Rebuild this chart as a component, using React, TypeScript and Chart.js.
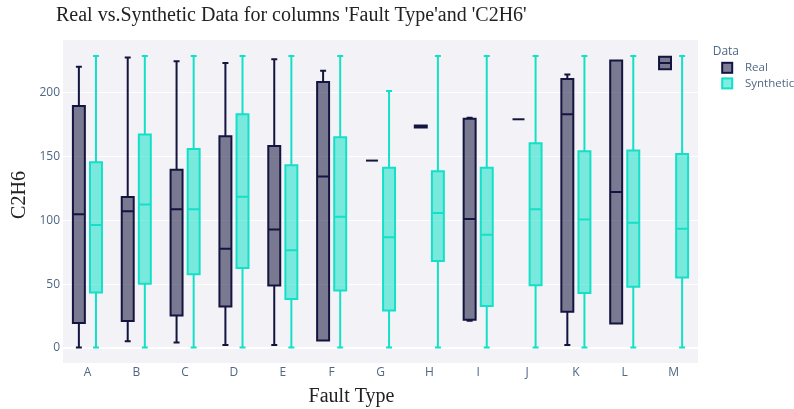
import React, { useEffect, useRef } from "react";
import { Chart, registerables } from "chart.js";

Chart.register(...registerables);

const categories = ["A", "B", "C", "D", "E", "F", "G", "H", "I", "J", "K", "L", "M"];

const realMin = [0.5, 5.4, 4.4, 2.3, 2.3, 5.9, 146.6, 172.5, 21.3, 178.9, 2.3, 19.2, 218];
const realQ1 = [19.5, 21.1, 25.5, 32.5, 48.9, 5.9, 146.6, 172.5, 22.1, 178.9, 28.4, 19.2, 218];
const realMedian = [104.7, 107, 108.6, 77.6, 92.7, 134.1, 146.6, 173.2, 101, 178.9, 182.8, 122.1, 222.9];
const realQ3 = [189.3, 118.2, 139.5, 165.6, 158, 208, 146.6, 174, 179.4, 178.9, 210.4, 224.8, 227.8];
const realMax = [220, 227.3, 224.2, 222.9, 225.8, 216.9, 146.6, 174, 180, 178.9, 214, 224.8, 227.8];

const synthMin = [0.5, 0.5, 0.5, 0.5, 0.5, 0.5, 0.5, 0.5, 0.5, 0.5, 0.5, 0.5, 0.5];
const synthQ1 = [43.5, 50.2, 57.8, 62.5, 38.3, 45, 29.4, 68, 32.8, 49.2, 43, 47.9, 55.2];
const synthMedian = [96.3, 112.2, 108.6, 118.4, 76.5, 102.6, 86.7, 105.7, 88.5, 108.6, 100.5, 97.9, 93.2];
const synthQ3 = [145.3, 166.9, 155.7, 182.8, 143, 164.8, 140.9, 138.3, 140.9, 160.2, 153.9, 154.4, 151.8];
const synthMax = [228.4, 228.4, 228.4, 228.4, 228.4, 228.4, 201, 228.4, 228.4, 228.4, 228.4, 228.4, 228.4];

const yTicks = [0, 50, 100, 150, 200];

const TITLE = "Real vs.Synthetic Data for columns 'Fault Type'and 'C2H6'";
const X_TITLE = "Fault Type";
const Y_TITLE = "C2H6";
const LEGEND_TITLE = "Data";

const REAL_LINE = "rgb(20,20,64)";
const REAL_FILL = "rgba(20,20,64,0.55)";
const SYN_LINE = "rgb(20,224,200)";
const SYN_FILL = "rgba(20,224,200,0.55)";
const PLOT_BG = "rgb(243,243,247)";
const TICK_COLOR = "#506784";
const SERIF = "'Liberation Serif', 'DejaVu Serif', serif";
const SANS = "'Open Sans', 'Noto Sans', sans-serif";

const boxPlugin = {
  id: "boxPlugin",
  beforeDraw(chart: any) {
    const { ctx, chartArea } = chart;
    ctx.save();
    ctx.fillStyle = PLOT_BG;
    ctx.fillRect(chartArea.left, chartArea.top, chartArea.right - chartArea.left, chartArea.bottom - chartArea.top);
    ctx.restore();
  },
  afterDatasetsDraw(chart: any) {
    const { ctx } = chart;
    const ys = chart.scales.y;
    chart.data.datasets.forEach((ds: any, d: number) => {
      const meta = chart.getDatasetMeta(d);
      const st = ds.stats;
      ctx.save();
      ctx.strokeStyle = ds.lineColor;
      ctx.lineWidth = 2;
      meta.data.forEach((el: any, i: number) => {
        const x = el.x;
        const w = el.width;
        const yMin = ys.getPixelForValue(st.min[i]);
        const yQ1 = ys.getPixelForValue(st.q1[i]);
        const yMed = ys.getPixelForValue(st.med[i]);
        const yQ3 = ys.getPixelForValue(st.q3[i]);
        const yMax = ys.getPixelForValue(st.max[i]);
        ctx.beginPath();
        // box outline
        if (st.q3[i] > st.q1[i]) {
          ctx.rect(x - w / 2, yQ3, w, yQ1 - yQ3);
        }
        // median
        ctx.moveTo(x - w / 2, yMed);
        ctx.lineTo(x + w / 2, yMed);
        // upper whisker
        if (st.max[i] > st.q3[i]) {
          ctx.moveTo(x, yQ3);
          ctx.lineTo(x, yMax);
          ctx.moveTo(x - w / 4, yMax);
          ctx.lineTo(x + w / 4, yMax);
        }
        if (st.min[i] < st.q1[i]) {
          ctx.moveTo(x, yQ1);
          ctx.lineTo(x, yMin);
          ctx.moveTo(x - w / 4, yMin);
          ctx.lineTo(x + w / 4, yMin);
        }
        ctx.stroke();
      });
      ctx.restore();
    });
  },
  afterDraw(chart: any) {
    const { ctx, chartArea } = chart;
    ctx.save();
    // main title
    ctx.fillStyle = "#222";
    ctx.font = `20px ${SERIF}`;
    ctx.textBaseline = "alphabetic";
    ctx.textAlign = "left";
    ctx.fillText(TITLE, 56, 20.7);
    // x title
    ctx.textAlign = "center";
    ctx.fillText(X_TITLE, 351.5, 401.7);
    // y title
    ctx.save();
    ctx.translate(25, 195);
    ctx.rotate(-Math.PI / 2);
    ctx.textAlign = "center";
    ctx.fillText(Y_TITLE, 0, 0);
    ctx.restore();
    // legend
    const lx = chartArea.right + 14.7;
    ctx.fillStyle = TICK_COLOR;
    ctx.textAlign = "left";
    ctx.textBaseline = "middle";
    ctx.font = `12px ${SANS}`;
    ctx.fillText(LEGEND_TITLE, lx, 51.7);
    chart.data.datasets.forEach((ds: any, d: number) => {
      const cy = 67.8 + d * 15.6;
      const sx = lx + 9.5;
      ctx.fillStyle = ds.backgroundColor;
      ctx.fillRect(sx, cy - 5, 10, 10);
      ctx.strokeStyle = ds.lineColor;
      ctx.lineWidth = 2;
      ctx.strokeRect(sx, cy - 5, 10, 10);
      ctx.fillStyle = TICK_COLOR;
      ctx.font = `11.5px ${SANS}`;
      ctx.fillText(ds.label, lx + 32.3, cy);
    });
    ctx.restore();
  },
};

export default function App() {
  const ref = useRef<HTMLCanvasElement | null>(null);
  useEffect(() => {
    if (!ref.current) return;
    const chart = new Chart(ref.current, {
      type: "bar",
      data: {
        labels: categories,
        datasets: [
          {
            label: "Real",
            data: categories.map((_, i) => [realQ1[i], realQ3[i]]) as any,
            backgroundColor: REAL_FILL,
            borderWidth: 0,
            lineColor: REAL_LINE,
            stats: { min: realMin, q1: realQ1, med: realMedian, q3: realQ3, max: realMax },
          } as any,
          {
            label: "Synthetic",
            data: categories.map((_, i) => [synthQ1[i], synthQ3[i]]) as any,
            backgroundColor: SYN_FILL,
            borderWidth: 0,
            lineColor: SYN_LINE,
            stats: { min: synthMin, q1: synthQ1, med: synthMedian, q3: synthQ3, max: synthMax },
          } as any,
        ],
      },
      options: {
        responsive: false,
        animation: false,
        devicePixelRatio: 1,
        layout: { padding: { top: 40, right: 96, bottom: 0, left: 0 } },
        datasets: { bar: { categoryPercentage: 0.7, barPercentage: 0.7 } },
        plugins: { legend: { display: false }, tooltip: { enabled: false }, title: { display: false } },
        scales: {
          x: {
            type: "category",
            grid: { display: false, drawTicks: false },
            border: { display: false },
            ticks: { color: TICK_COLOR, font: { family: SANS, size: 12 }, padding: 2 },
            afterFit: (s: any) => { s.height = 46; },
          },
          y: {
            type: "linear",
            min: -11.7,
            max: 240.9,
            grid: {
              color: "#ffffff",
              drawTicks: false,
              lineWidth: (c: any) => (c.tick && c.tick.value === 0 ? 2 : 1),
            },
            border: { display: false },
            afterBuildTicks: (s: any) => { s.ticks = yTicks.map((v) => ({ value: v })); },
            ticks: { color: TICK_COLOR, font: { family: SANS, size: 12 }, padding: 3 },
            afterFit: (s: any) => { s.width = 63; },
          },
        },
      },
      plugins: [boxPlugin],
    });
    return () => chart.destroy();
  }, []);
  return (
    <div style={{ position: "fixed", left: 0, top: 0, width: 794, height: 409, background: "#fff" }}>
      <canvas ref={ref} width={794} height={409} style={{ width: 794, height: 409, display: "block" }} />
    </div>
  );
}
